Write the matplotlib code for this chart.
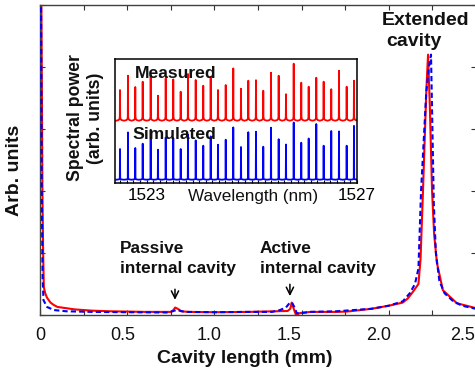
import matplotlib

matplotlib.use('Agg')
import matplotlib.pyplot as plt
from matplotlib.ticker import MultipleLocator

plt.rcParams['font.family'] = ['Liberation Sans', 'DejaVu Sans']

W, H = 475, 371

# --- main trace: cavity length (mm) vs arb. units ---
meas_x = [0.0, 0.008, 0.014, 0.018, 0.022, 0.03, 0.04, 0.06, 0.08, 0.1, 0.15, 0.2,
          0.3, 0.4, 0.5, 0.6, 0.7, 0.75, 0.765, 0.775, 0.79, 0.81, 0.85, 1.0, 1.2,
          1.35, 1.42, 1.435, 1.443, 1.455, 1.468, 1.49, 1.55, 1.7, 1.76, 1.9, 2.0,
          2.08, 2.11, 2.14, 2.17, 2.182, 2.196, 2.215, 2.225, 2.235, 2.248, 2.26,
          2.276, 2.31, 2.39, 2.5]
meas_y = [9.0, 5.0, 2.0, 1.0, 0.45, 0.35, 0.28, 0.2, 0.16, 0.13, 0.11, 0.09,
          0.07, 0.06, 0.055, 0.05, 0.05, 0.05, 0.08, 0.12, 0.1, 0.06, 0.05, 0.045, 0.05,
          0.06, 0.065, 0.1, 0.2, 0.1, 0.0, 0.03, 0.05, 0.05, 0.055, 0.1, 0.15,
          0.2, 0.27, 0.38, 0.5, 0.9, 2.0, 3.6, 4.2, 3.4, 2.0, 1.3,
          0.84, 0.4, 0.19, 0.11]

sim_x = [0.0, 0.006, 0.01, 0.015, 0.02, 0.04, 0.08, 0.15, 0.3, 0.5, 0.74, 0.77,
         0.785, 0.8, 0.83, 1.0, 1.2, 1.33, 1.376, 1.41, 1.433, 1.445, 1.46, 1.472,
         1.49, 1.55, 1.7, 1.9, 2.0, 2.08, 2.12, 2.15, 2.17, 2.185, 2.2, 2.215, 2.23,
         2.242, 2.25, 2.258, 2.27, 2.29, 2.32, 2.37, 2.42, 2.5]
sim_y = [9.0, 5.0, 2.0, 0.6, 0.24, 0.13, 0.08, 0.06, 0.05, 0.045, 0.04, 0.07,
         0.08, 0.07, 0.05, 0.045, 0.05, 0.05, 0.08, 0.12, 0.2, 0.2, 0.12, 0.03,
         0.03, 0.05, 0.06, 0.1, 0.15, 0.22, 0.35, 0.5, 0.75, 2.0, 2.8, 3.6, 4.0,
         4.2, 3.0, 1.8, 1.0, 0.55, 0.35, 0.22, 0.15, 0.1]

# x tick labels and where the reference prints them (pixels)
xtick_text = ['0', '0.5', '1.0', '1.5', '2.0', '2.5']
xtick_px = [40, 122.5, 209, 289, 379, 463]

# --- inset: comb line peaks (nm) and heights (arb.) ---
peak_nm = [1522.495, 1522.647, 1522.786, 1522.927, 1523.079, 1523.218, 1523.365,
           1523.509, 1523.650, 1523.789, 1523.936, 1524.080, 1524.221, 1524.360,
           1524.507, 1524.651, 1524.798, 1524.937, 1525.083, 1525.222, 1525.369,
           1525.515, 1525.654, 1525.801, 1525.945, 1526.086, 1526.231, 1526.371,
           1526.516, 1526.663, 1526.809, 1526.948]
meas_peaks = [30.7, 45, 33.7, 39, 45.7, 25, 42.3, 41.3, 29, 46.7, 40.7, 35, 44,
              30.7, 35.7, 52.3, 32, 40, 40.5, 30, 48, 45, 26.5, 57, 38, 34, 43,
              39, 31.5, 50, 34, 40]
sim_peaks = [30.7, 47.3, 31.7, 36, 50, 30, 42.3, 41.7, 30.7, 45, 39.3, 34, 43.3,
             35, 40, 52.3, 32.7, 47.5, 48, 33, 52, 40.5, 35.2, 57.2, 37, 41.2, 55.7,
             34, 48.7, 48.3, 34, 53.8]
meas_base = 62.3
sim_base = 3.3


def comb(centers, heights, base, wing):
    xs, ys = [], []
    for c, h in zip(centers, heights):
        xs += [c - 0.072, c - 0.03, c - 0.012, c - 0.004, c, c + 0.004, c + 0.012, c + 0.03]
        ys += [base, base + 0.4 * wing, base + wing, base + 2.5 * wing, base + h,
               base + 2.5 * wing, base + wing, base + 0.4 * wing]
    xs.append(centers[-1] + 0.072)
    ys.append(base)
    return xs, ys


def px(x, y):
    return x / W, 1 - y / H


fig = plt.figure(figsize=(W / 100, H / 100), dpi=100)
ax = fig.add_axes([40 / W, (H - 315) / H, 436 / W, 310 / H])

ax.plot(meas_x, meas_y, color='#ff0000', lw=1.5, zorder=2)
ax.plot(sim_x, sim_y, color='#0000ff', lw=1.5, ls=(0, (2.5, 1.5)), zorder=3)
ax.set_xlim(0, 2.5)
ax.set_ylim(0, 5)
ax.xaxis.set_major_locator(MultipleLocator(0.5))
ax.xaxis.set_minor_locator(MultipleLocator(0.25))
ax.yaxis.set_major_locator(MultipleLocator(1))
ax.set_xticklabels([])
ax.set_yticklabels([])
ax.tick_params(which='both', direction='in', top=True, right=True, length=3.6,
               width=0.8, color='#333333')
for s in ax.spines.values():
    s.set_linewidth(1.0)
    s.set_color('#404040')

for t, xp in zip(xtick_text, xtick_px):
    fig.text(*px(xp, 340), t, fontsize=13, ha='center', va='baseline', color='#111111')

bold = dict(fontweight='bold', color='#111111')
ax.text(0.459, 1.0, 'Passive', fontsize=12.4, ha='left', va='baseline', **bold)
ax.text(0.459, 0.677, 'internal cavity', fontsize=12.4, ha='left', va='baseline', **bold)
ax.text(1.261, 1.0, 'Active', fontsize=12.4, ha='left', va='baseline', **bold)
ax.text(1.261, 0.677, 'internal cavity', fontsize=12.4, ha='left', va='baseline', **bold)
ax.text(2.208, 4.677, 'Extended', fontsize=14, ha='center', va='baseline', **bold)
ax.text(2.145, 4.34, 'cavity', fontsize=14, ha='center', va='baseline', **bold)
arrow = dict(arrowstyle='->', lw=1.1, color='k', mutation_scale=13)
ax.annotate('', xy=(0.774, 0.2), xytext=(0.774, 0.46), arrowprops=arrow)
ax.annotate('', xy=(1.433, 0.26), xytext=(1.433, 0.54), arrowprops=arrow)

fig.text(*px(245, 363), 'Cavity length (mm)', fontsize=14, ha='center',
         va='baseline', **bold)
fig.text(*px(15, 170), 'Arb. units', fontsize=14, rotation=90, ha='center',
         va='center', **bold)

# inset
ins = fig.add_axes([115 / W, (H - 183) / H, 241.7 / W, 123.7 / H])
mx, my = comb(peak_nm, meas_peaks, meas_base, 1.5)
sx, sy = comb(peak_nm, sim_peaks, sim_base, 0.6)
ins.plot(mx, my, color='#ff0000', lw=1.3)
ins.plot(sx, sy, color='#0000ff', lw=1.3)
ins.set_xlim(1522.4, 1527.0)
ins.set_ylim(0, 123.7)
ins.set_xticks([1523, 1527])
ins.xaxis.set_minor_locator(MultipleLocator(0.125))
ins.set_yticks([])
ins.tick_params(which='both', direction='in', length=2, width=0.8)
ins.tick_params(axis='x', labelsize=12.3, pad=3.5)
for s in ins.spines.values():
    s.set_linewidth(1.1)
    s.set_color('k')

fig.text(*px(253.5, 201.5), 'Wavelength (nm)', fontsize=12.3, ha='center',
         va='baseline', color='#111111')
fig.text(*px(176, 78), 'Measured', fontsize=12.6, ha='center', va='baseline', **bold)
fig.text(*px(174.3, 139), 'Simulated', fontsize=12.6, ha='center', va='baseline', **bold)
fig.text(*px(75, 118), 'Spectral power', fontsize=12.7, rotation=90, ha='center',
         va='center', **bold)
fig.text(*px(95, 118), '(arb. units)', fontsize=12.7, rotation=90, ha='center',
         va='center', **bold)

fig.savefig('out.png', dpi=100)
